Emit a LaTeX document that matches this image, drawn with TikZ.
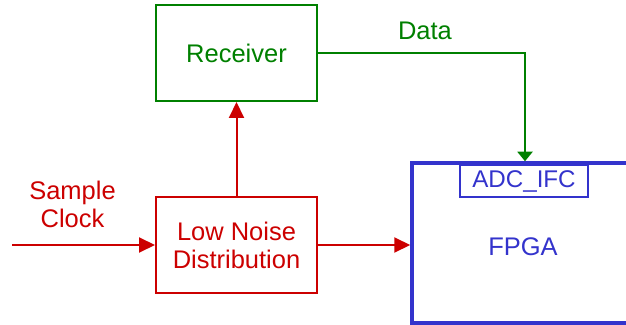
\documentclass[tikz,border=0pt]{standalone}
\usepackage{fontspec}
\setmainfont{Liberation Sans}
\usetikzlibrary{arrows.meta}
\definecolor{sigred}{RGB}{204,0,0}
\definecolor{siggreen}{RGB}{0,128,0}
\definecolor{fpgablue}{RGB}{51,51,204}

\begin{document}
\begin{tikzpicture}
    [font = \fontsize{29}{32}\selectfont,
     block/.style = {draw, line width = .08cm, minimum width = 6.44cm, minimum height = 3.84cm, align = center},
     redtip/.style = {-{Triangle[length=.64cm, width=.6cm]}},
     greentip/.style = {-{Triangle[length=.38cm, width=.6cm]}}]
    \useasboundingbox (0,0) rectangle (25.04,-13);
    \clip (0,0) rectangle (25.04,-13);

    \node[block, draw = siggreen, text = siggreen] (rx) at (9.46,-2.12) {Receiver};
    \node[block, draw = sigred, text = sigred] (lnd) at (9.46,-9.8) {Low Noise\\Distribution};
    \node[draw = fpgablue, text = fpgablue, line width = .14cm, minimum width = 8.88cm, minimum height = 6.4cm, text height = 1cm] (fpga) at (20.92,-9.72) {FPGA};
    \node[draw = fpgablue, text = fpgablue, line width = .05cm, minimum width = 5.12cm, minimum height = 1.28cm, inner sep = 0pt, font = \fontsize{27.5}{30}\selectfont] (adc) at (20.96,-7.24) {ADC\_IFC};

    \node[text = sigred, align = center] (clk) at (2.9,-8.18) {Sample\\Clock};
    \node[text = siggreen] (data) at (17.0,-1.24) {Data};

    \coordinate (in) at (0.48,-9.8);
    \coordinate (turn) at (21.0,-2.12);

    \draw[sigred, line width = .08cm, redtip] (in) -- (lnd.west);
    \draw[sigred, line width = .08cm, redtip] (lnd.north) -- (rx.south);
    \draw[sigred, line width = .08cm, redtip] (lnd.east) -- (lnd.east -| fpga.west);
    \draw[siggreen, line width = .08cm, greentip] (rx.east) -- (turn) -- (turn |- fpga.north);
  \end{tikzpicture}
\end{document}
